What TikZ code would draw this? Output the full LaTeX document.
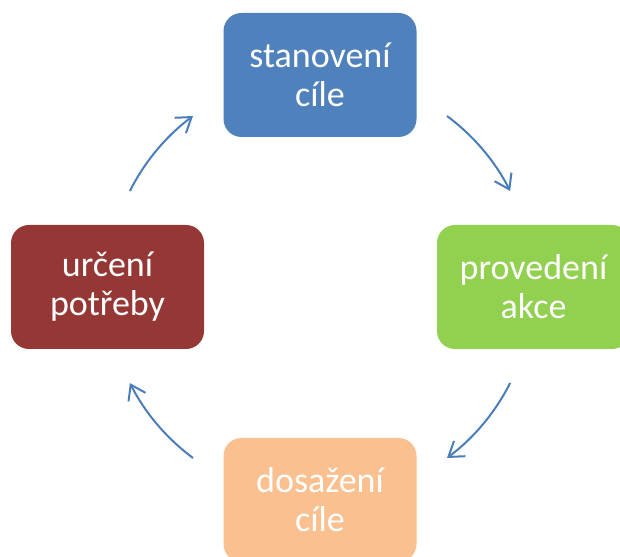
\documentclass[tikz,border=0pt]{standalone}
\usepackage{fontspec}
\setmainfont{Carlito}
\usetikzlibrary{arrows.meta,calc}
\definecolor{cblue}{HTML}{4F81BD}
\definecolor{cgreen}{HTML}{92D050}
\definecolor{cred}{HTML}{953735}
\definecolor{cpeach}{HTML}{FAC090}
\definecolor{carrow}{HTML}{4A7EBB}
\begin{document}
\begin{tikzpicture}[x=1pt,y=1pt,
  stagebox/.style={rounded corners=18pt, minimum width=193pt, minimum height=124pt, inner sep=0pt, text=white, align=center, font=\fontsize{36}{39}\selectfont},
  cyclearrow/.style={draw=carrow, line width=2pt, -{Straight Barb[length=14pt,width=19pt,line width=2pt]}}]
\clip (0,0) rectangle (620,556);
\fill[white] (0,0) rectangle (620,556);
\node[stagebox, fill=cblue] (top) at (320,481) {stanovení\\cíle};
\node[stagebox, fill=cgreen] (right) at (533.5,269) {provedení\\akce};
\node[stagebox, fill=cpeach] (bottom) at (320,56) {dosažení\\cíle};
\node[stagebox, fill=cred] (left) at (107.5,269) {určení\\potřeby};
\coordinate (c) at (320,269);
\draw[cyclearrow] ($(c)+(53.4:213)$) arc (53.4:26.8:213);
\draw[cyclearrow] ($(c)+(-26.8:213)$) arc (-26.8:-53.4:213);
\draw[cyclearrow] ($(c)+(-126.6:213)$) arc (-126.6:-153.2:213);
\draw[cyclearrow] ($(c)+(153.2:213)$) arc (153.2:126.6:213);
\end{tikzpicture}
\end{document}
